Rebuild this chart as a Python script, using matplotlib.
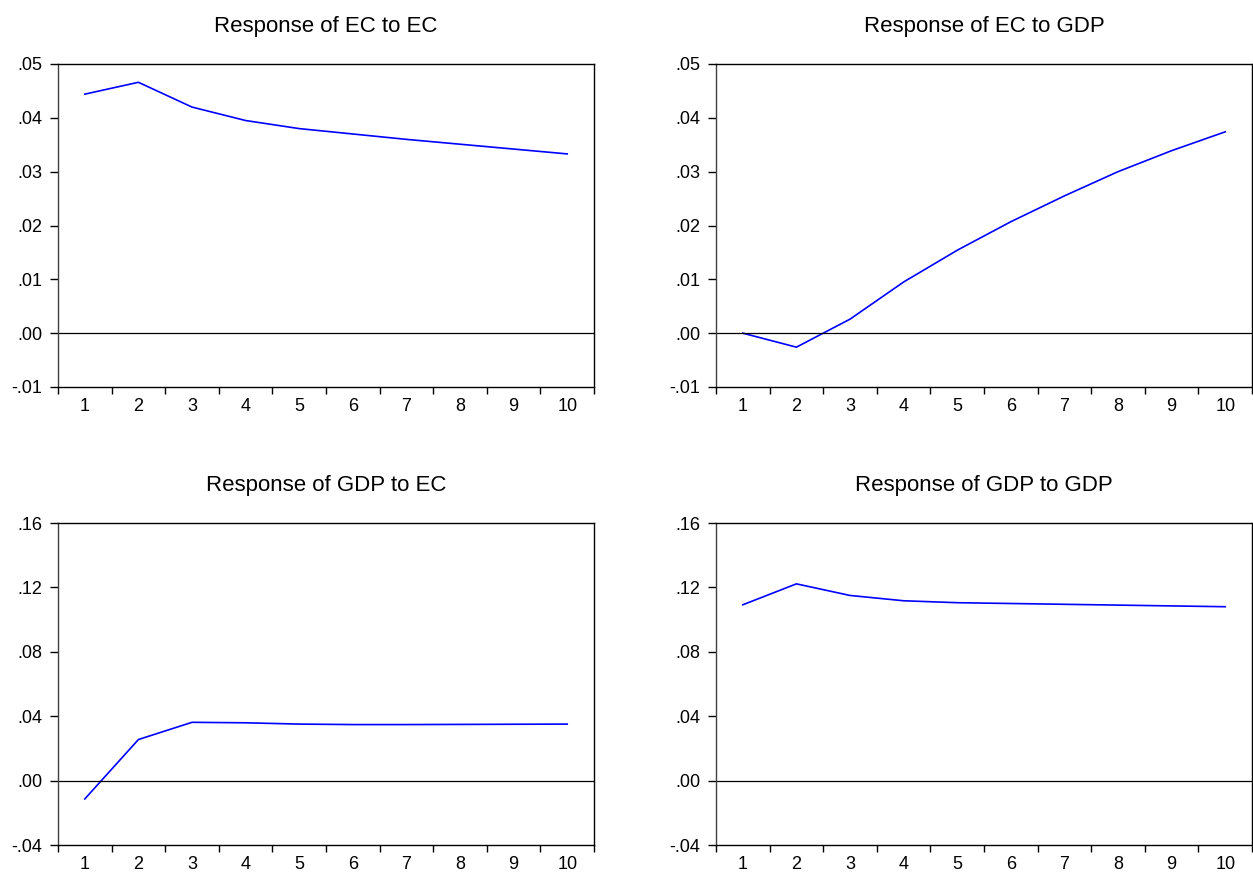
import numpy as np
import matplotlib.pyplot as plt
from matplotlib.ticker import FixedLocator, FuncFormatter

plt.rcParams['font.family'] = ['Liberation Sans', 'DejaVu Sans']

periods = np.arange(1, 11)

# impulse responses
ec_to_ec = [0.0444, 0.0466, 0.0420, 0.0395, 0.0380, 0.0370, 0.0360, 0.0351, 0.0342, 0.0333]
ec_to_gdp = [0.0000, -0.0026, 0.0026, 0.0095, 0.0154, 0.0207, 0.0255, 0.0300, 0.0339, 0.0374]
gdp_to_ec = [-0.0114, 0.0255, 0.0362, 0.0359, 0.0351, 0.0348, 0.0348, 0.0349, 0.0350, 0.0351]
gdp_to_gdp = [0.1092, 0.1222, 0.1150, 0.1117, 0.1105, 0.1100, 0.1095, 0.1090, 0.1085, 0.1080]

titles = ["Response of EC to EC", "Response of EC to GDP",
          "Response of GDP to EC", "Response of GDP to GDP"]
series = [ec_to_ec, ec_to_gdp, gdp_to_ec, gdp_to_gdp]
yticks_top = [-0.01, 0.00, 0.01, 0.02, 0.03, 0.04, 0.05]
yticks_bot = [-0.04, 0.00, 0.04, 0.08, 0.12, 0.16]


def fmt(v, pos):
    s = "%.2f" % v
    return s.replace("0.", ".", 1)


W, H = 1253, 873
fig = plt.figure(figsize=(W / 100, H / 100), dpi=100)

# pixel boxes: left, top, right, bottom
boxes = [(58, 64, 594, 387), (716, 64, 1252, 387),
         (58, 523, 594, 845), (716, 523, 1252, 845)]

for i, (l, t, r, b) in enumerate(boxes):
    ax = fig.add_axes([l / W, 1 - b / H, (r - l) / W, (b - t) / H])
    ax.plot(periods, series[i], color=(0, 0, 1), lw=1.2)
    ax.axhline(0, color='black', lw=0.9)
    ax.set_xlim(0.5, 10.5)
    yt = yticks_top if i < 2 else yticks_bot
    ax.set_ylim(yt[0], yt[-1])
    ax.set_yticks(yt)
    ax.yaxis.set_major_formatter(FuncFormatter(fmt))
    ax.set_xticks(periods)
    ax.xaxis.set_minor_locator(FixedLocator(np.arange(0.5, 11, 1)))
    ax.tick_params(axis='x', which='major', length=0, pad=8, labelsize=13)
    ax.tick_params(axis='x', which='minor', length=5, width=1, direction='out')
    ax.tick_params(axis='y', length=6, width=1, direction='out', pad=5.5, labelsize=13)
    for s in ax.spines.values():
        s.set_linewidth(1)
    ax.spines['left'].set_color('#404040')
    ax.set_title(titles[i], fontsize=16, pad=23)

fig.savefig("out.png", dpi=100)
